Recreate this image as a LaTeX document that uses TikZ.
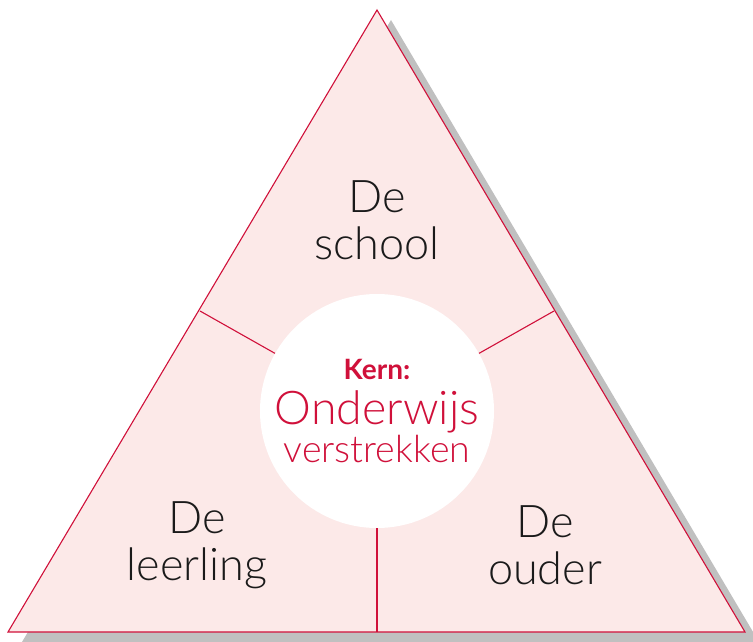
\documentclass[tikz,border=0pt]{standalone}
\usepackage{fontspec}
\setmainfont{Lato}[UprightFont=* Light, BoldFont=* Bold]
\usepackage{tikz}
\usetikzlibrary{positioning,calc}

\definecolor{kernred}{RGB}{208,16,58}
\definecolor{kernfill}{RGB}{252,233,232}
\definecolor{kernshadow}{RGB}{192,192,192}
\definecolor{kerntext}{RGB}{26,26,26}

\begin{document}
\begin{tikzpicture}[
    x=1bp, y=-1bp,
    edge/.style={draw=kernred, line width=1.1bp},
    part/.style={align=center, text=kerntext, font=\fontsize{45bp}{47bp}\selectfont},
    core/.style={circle, fill=white, minimum size=234bp, inner sep=0pt, align=center, text=kernred,
        font=\fontsize{44bp}{42bp}\selectfont}
]

\useasboundingbox (0,0) rectangle (753,642);

% Corners
\coordinate (top) at (377,10);
\coordinate (bl) at (8,632);
\coordinate (br) at (745,632);

% Shadow and triangle
\fill [kernshadow] ($(top)+(14,10)$) -- ($(bl)+(14,10)$) -- ($(br)+(14,10)$) -- cycle;
\draw [edge, fill=kernfill] (top) -- (bl) -- (br) -- cycle;

% Core
\node (kern) at (377,411) [core] {{\bfseries\fontsize{28bp}{30bp}\selectfont Kern:}\\[3bp]
    {\fontsize{46.5bp}{42bp}\selectfont Onderwijs}\\[-4bp]
    {\fontsize{37.5bp}{42bp}\selectfont verstrekken}};

% Dividers
\coordinate (edgeL) at (200,311);
\coordinate (edgeR) at (554,311);
\coordinate (edgeB) at (377,632);
\draw [edge] (edgeL) -- (kern);
\draw [edge] (edgeR) -- (kern);
\draw [edge, line width=1.6bp] (edgeB) -- (kern);

% Parts
\node (school) at (377,220) [part] {De\\school};
\node (leerling) at (197,545) [part] {De\\leerling};
\node (ouder) at (545,545) [part] {De\\ouder};

\end{tikzpicture}
\end{document}
